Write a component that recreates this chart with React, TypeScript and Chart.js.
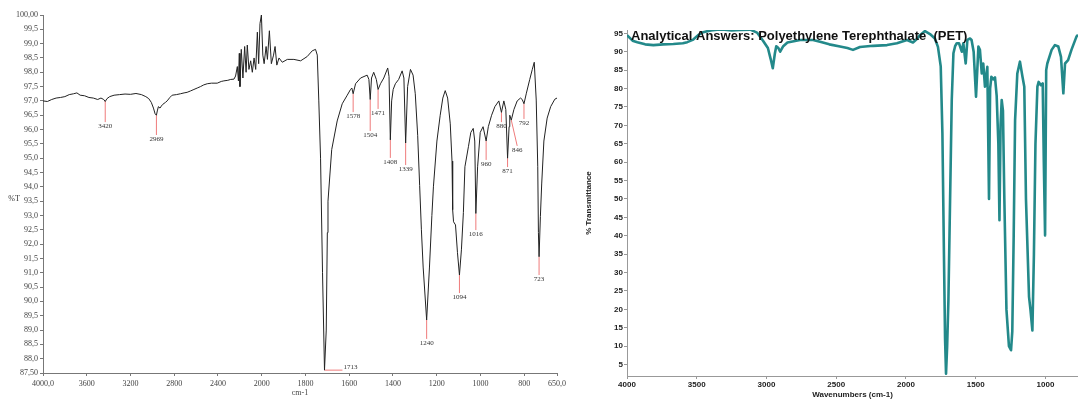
import React, { useEffect, useRef } from 'react';
import { Chart, registerables, LinearScale } from 'chart.js';

// ---------------- Left spectrum (%T, cm-1) ----------------
const leftWavenumbers = [
  4000, 3960, 3920, 3880, 3840, 3800, 3760, 3720, 3690, 3660, 3620, 3580, 3540, 3500, 3470, 3445, 3431, 3415, 3390, 3350,
  3300, 3250, 3200, 3150, 3100, 3060, 3033, 3010, 2990, 2975, 2963, 2955, 2945, 2930, 2918, 2905, 2880, 2865, 2840, 2819,
  2780, 2743, 2710, 2682, 2650, 2620, 2590, 2560, 2530, 2498, 2460, 2407, 2370, 2346, 2310, 2284, 2254, 2239, 2223, 2213,
  2205, 2199, 2187, 2172, 2156, 2143, 2132, 2117, 2101, 2086, 2070, 2055, 2040, 2028, 2016, 2003, 1995, 1989, 1980, 1974,
  1965, 1956, 1946, 1939, 1931, 1921, 1906, 1883, 1853, 1822, 1792, 1769, 1754, 1746, 1739, 1731, 1722, 1713, 1705, 1700,
  1697, 1680, 1655, 1632, 1609, 1594, 1588, 1582, 1571, 1548, 1518, 1510, 1504, 1498, 1488, 1476, 1468, 1457, 1442, 1424,
  1418, 1412, 1406, 1399, 1389, 1374, 1358, 1350, 1342, 1333, 1320, 1308, 1298, 1287, 1278, 1270, 1262, 1246, 1233, 1222,
  1215, 1199, 1184, 1172, 1161, 1150, 1138, 1130, 1127, 1123, 1114, 1105, 1096, 1087, 1078, 1071, 1055, 1044, 1033, 1026,
  1021, 1013, 1001, 988, 974, 964, 949, 934, 916, 904, 893, 884, 876, 869, 866, 859, 847, 832, 817, 809,
  801, 790, 775, 763, 754, 745, 738, 735, 732, 726, 720, 710, 695, 679, 660, 650,
];
const leftTransmittance = [
  97.0, 96.98, 97.05, 97.1, 97.12, 97.15, 97.22, 97.25, 97.28, 97.2, 97.18, 97.12, 97.1, 97.05, 97.1, 97.05, 96.98, 97.08, 97.15, 97.2,
  97.22, 97.24, 97.23, 97.26, 97.22, 97.15, 97.08, 96.95, 96.75, 96.55, 96.5, 96.65, 96.8, 96.75, 96.82, 96.88, 96.95, 97.0, 97.12, 97.2,
  97.22, 97.25, 97.28, 97.3, 97.35, 97.4, 97.45, 97.5, 97.56, 97.6, 97.62, 97.62, 97.68, 97.7, 97.72, 97.75, 97.76, 97.87, 98.2, 97.7,
  98.66, 97.5, 98.8, 97.8, 98.9, 98.0, 98.95, 98.1, 98.4, 98.0, 98.5, 98.1, 99.4, 98.3, 99.7, 100.0, 98.6, 98.3, 98.9, 98.45,
  99.45, 98.3, 98.6, 98.9, 98.25, 98.5, 98.35, 98.45, 98.45, 98.4, 98.55, 98.75, 98.8, 98.6, 97.0, 95.0, 91.0, 87.6, 89.0, 92.4,
  93.5, 95.3, 96.3, 96.9, 97.2, 97.4, 97.45, 97.25, 97.6, 97.8, 97.9, 97.75, 97.05, 97.8, 98.0, 97.75, 97.4, 97.6, 97.8, 98.15,
  97.85, 95.64, 97.0, 97.4, 97.6, 97.75, 98.05, 97.8, 95.53, 97.5, 98.1, 97.9, 97.25, 95.8, 94.05, 92.5, 91.2, 89.35, 91.2, 93.0,
  94.0, 95.6, 96.5, 97.1, 97.36, 97.1, 96.2, 94.9, 93.2, 92.78, 92.67, 91.7, 90.92, 91.8, 93.1, 94.7, 95.4, 95.9, 96.04, 95.6,
  93.07, 94.7, 95.9, 96.1, 95.6, 96.1, 96.5, 96.8, 97.0, 96.6, 97.0, 96.7, 95.0, 96.1, 96.5, 96.33, 96.7, 97.0, 97.1, 97.05,
  96.9, 97.27, 97.74, 98.1, 98.35, 97.03, 94.7, 92.4, 91.56, 92.96, 94.1, 95.6, 96.4, 96.8, 97.06, 97.1,
];
const leftXTicks = [4000, 3600, 3200, 2800, 2400, 2000, 1800, 1600, 1400, 1200, 1000, 800, 650];
const leftXTickLabels = ['4000,0', '3600', '3200', '2800', '2400', '2000', '1800', '1600', '1400', '1200', '1000', '800', '650,0'];
const leftYTicks = [87.5, 88, 88.5, 89, 89.5, 90, 90.5, 91, 91.5, 92, 92.5, 93, 93.5, 94, 94.5, 95, 95.5, 96, 96.5, 97, 97.5, 98, 98.5, 99, 99.5, 100];
const leftYTickLabels = ['87,50', '88,0', '88,5', '89,0', '89,5', '90,0', '90,5', '91,0', '91,5', '92,0', '92,5', '93,0', '93,5', '94,0', '94,5', '95,0', '95,5', '96,0', '96,5', '97,0', '97,5', '98,0', '98,5', '99,0', '99,5', '100,00'];

// Peak annotations
const peakLabels = ['3420', '2969', '1713', '1578', '1504', '1471', '1408', '1339', '1240', '1094', '1016', '960', '880', '871', '846', '792', '723'];
const peakPos = [3431, 2963, 1713, 1582, 1504, 1468, 1412, 1342, 1246, 1096, 1021, 974, 904, 876, 859, 801, 732];
const peakTip = [97.0, 96.5, 87.6, 97.25, 97.05, 97.4, 95.64, 95.53, 89.35, 90.92, 93.07, 95.6, 96.6, 95.0, 96.33, 96.9, 91.56];
const labelAnchorPos = [3431, 2963, 1631, 1582, 1504, 1468, 1412, 1342, 1246, 1096, 1021, 974, 904, 876, 832, 801, 732];
const labelAnchorVal = [96.26, 95.81, 87.6, 96.61, 95.95, 96.72, 95.01, 94.76, 88.69, 90.29, 92.49, 94.94, 96.26, 94.69, 95.43, 96.37, 90.92];
const labelSide = ['below', 'below', 'right', 'below', 'below', 'below', 'below', 'below', 'below', 'below', 'below', 'below', 'below', 'below', 'below', 'below', 'below'];

// ---------------- Right spectrum (PET reference) ----------------
const rightTitleText = 'Analytical Answers: Polyethylene Terephthalate  (PET)';
const rightWavenumbers = [
  4000, 3960, 3926, 3870, 3811, 3740, 3668, 3600, 3568, 3525, 3490, 3454, 3400, 3354, 3300, 3250, 3189, 3117, 3068, 3025,
  2990, 2970, 2955, 2940, 2930, 2915, 2902, 2880, 2850, 2759, 2666, 2616, 2550, 2473, 2420, 2380, 2330, 2236, 2136, 2065,
  1993, 1950, 1920, 1900, 1864, 1828, 1793, 1771, 1751, 1739, 1728, 1720, 1713, 1705, 1696, 1684, 1672, 1660, 1648, 1636,
  1620, 1600, 1589, 1572, 1560, 1541, 1530, 1515, 1498, 1481, 1470, 1457, 1446, 1434, 1417, 1405, 1397, 1388, 1375, 1362,
  1350, 1338, 1330, 1322, 1314, 1305, 1295, 1280, 1262, 1247, 1238, 1228, 1218, 1202, 1183, 1165, 1152, 1140, 1118, 1108,
  1094, 1083, 1072, 1058, 1049, 1033, 1020, 1012, 1003, 995, 987, 956, 932, 908, 889, 872, 860, 838, 814, 778, 767,
];
const rightTransmittance = [
  94.5, 93.0, 92.6, 92.0, 91.8, 92.0, 92.1, 92.3, 92.6, 93.3, 94.5, 95.3, 95.8, 96.0, 96.0, 95.8, 95.9, 96.0, 95.2, 93.0,
  91.0, 88.0, 85.5, 89.5, 91.5, 91.0, 90.0, 91.5, 92.5, 93.2, 93.2, 92.7, 92.0, 91.4, 91.0, 90.5, 91.3, 91.6, 91.8, 92.3,
  93.2, 92.5, 93.5, 94.5, 95.6, 94.8, 93.6, 91.3, 86.0, 67.8, 35.0, 12.0, 2.5, 10.0, 22.5, 49.7, 76.9, 89.6, 91.5, 92.3,
  92.3, 90.0, 92.3, 86.8, 93.2, 93.6, 93.2, 90.0, 77.8, 91.4, 90.5, 84.1, 86.8, 80.5, 85.9, 50.0, 80.0, 83.2, 82.5, 83.0,
  78.0, 65.0, 44.2, 70.0, 76.9, 74.0, 50.0, 20.0, 10.0, 8.9, 14.0, 40.0, 71.4, 84.1, 87.3, 83.2, 80.5, 50.0, 23.4, 20.0,
  14.3, 35.0, 65.0, 80.5, 81.8, 80.9, 81.4, 60.0, 40.1, 85.0, 86.8, 90.5, 91.8, 91.4, 88.6, 78.7, 86.8, 87.7, 90.5, 94.1, 94.6,
];
const rightXTicks = [4000, 3500, 3000, 2500, 2000, 1500, 1000];
const rightYTicks = [5, 10, 15, 20, 25, 30, 35, 40, 45, 50, 55, 60, 65, 70, 75, 80, 85, 90, 95];

// ---------------- Custom split x scale (2x expansion below 2000 cm-1) ----------------
const SPLIT_TOTAL = 2350;
function leftFrac(w: number) {
  const u = w >= 2000 ? (4000 - w) / 2 : 1000 + (2000 - w);
  return u / SPLIT_TOTAL;
}
function leftInv(d: number) {
  const u = d * SPLIT_TOTAL;
  return u <= 1000 ? 4000 - u * 2 : 2000 - (u - 1000);
}

class IRSplitScale extends LinearScale {
  static id = 'irSplit';
  static defaults = {};
  getPixelForValue(value: any) {
    if (value === null || value === undefined || isNaN(value)) return NaN;
    return (this as any).getPixelForDecimal(leftFrac(value));
  }
  getValueForPixel(pixel: number) {
    return leftInv((this as any).getDecimalForPixel(pixel));
  }
}

Chart.register(...registerables, IRSplitScale as any);

const serif = '"Liberation Serif", "Times New Roman", serif';
const sans = '"Liberation Sans", Arial, sans-serif';

const leftAnnotations = {
  id: 'leftAnnotations',
  beforeDatasetsDraw(chart: any) {
    const { ctx } = chart;
    const x = chart.scales.x;
    const y = chart.scales.y;
    ctx.save();
    ctx.strokeStyle = '#ef7b7b';
    ctx.lineWidth = 1;
    ctx.font = `7px ${serif}`;
    ctx.fillStyle = '#333';
    peakLabels.forEach((label, i) => {
      const x0 = x.getPixelForValue(peakPos[i]);
      const y0 = y.getPixelForValue(peakTip[i]);
      const x1 = x.getPixelForValue(labelAnchorPos[i]);
      const y1 = y.getPixelForValue(labelAnchorVal[i]);
      ctx.beginPath();
      ctx.moveTo(x0, y0);
      ctx.lineTo(x1, y1);
      ctx.stroke();
      if (labelSide[i] === 'right') {
        ctx.textAlign = 'left';
        ctx.textBaseline = 'bottom';
        ctx.fillText(label, x1 + 1, y1 + 1);
      } else {
        ctx.textAlign = 'center';
        ctx.textBaseline = 'top';
        ctx.fillText(label, x1, y1 + 1);
      }
    });
    ctx.font = `8px ${serif}`;
    ctx.textAlign = 'center';
    ctx.textBaseline = 'middle';
    ctx.fillText('%T', 14, (chart.chartArea.top + chart.chartArea.bottom) / 2 + 5);
    ctx.restore();
  },
};

const rightTitle = {
  id: 'rightTitle',
  afterDatasetsDraw(chart: any) {
    const { ctx, chartArea } = chart;
    ctx.save();
    ctx.font = `bold 13px ${sans}`;
    ctx.fillStyle = '#111';
    ctx.textAlign = 'left';
    ctx.textBaseline = 'alphabetic';
    ctx.fillText(rightTitleText, chartArea.left + 4, chartArea.top + 10);
    ctx.restore();
  },
};

export default function App() {
  const leftRef = useRef<HTMLCanvasElement>(null);
  const rightRef = useRef<HTMLCanvasElement>(null);

  useEffect(() => {
    const leftChart = new Chart(leftRef.current as HTMLCanvasElement, {
      type: 'line',
      data: {
        datasets: [
          {
            data: leftWavenumbers.map((w, i) => ({ x: w, y: leftTransmittance[i] })),
            borderColor: '#222',
            borderWidth: 1,
            pointRadius: 0,
            tension: 0,
          },
        ],
      },
      options: {
        responsive: false,
        maintainAspectRatio: false,
        animation: false,
        devicePixelRatio: 1,
        layout: { padding: { top: 15, right: 18, left: 0, bottom: 0 } },
        plugins: { legend: { display: false }, tooltip: { enabled: false } },
        scales: {
          x: {
            type: 'irSplit' as any,
            min: 650,
            max: 4000,
            afterBuildTicks: (s: any) => {
              s.ticks = leftXTicks.map((value) => ({ value }));
            },
            afterFit: (s: any) => {
              s.height = 27;
            },
            ticks: {
              autoSkip: false,
              maxRotation: 0,
              padding: 3,
              color: '#444',
              font: { family: serif, size: 8 },
              callback: (_v: any, i: number) => leftXTickLabels[i],
            },
            grid: { drawOnChartArea: false, drawTicks: true, tickLength: 3, color: '#777' },
            border: { display: true, color: '#777' },
            title: { display: true, text: 'cm-1', color: '#444', font: { family: serif, size: 8 }, padding: { top: 0, bottom: 2 } },
          },
          y: {
            type: 'linear',
            min: 87.5,
            max: 100,
            afterBuildTicks: (s: any) => {
              s.ticks = leftYTicks.map((value) => ({ value }));
            },
            afterFit: (s: any) => {
              s.width = 43;
            },
            ticks: {
              autoSkip: false,
              padding: 2,
              color: '#444',
              font: { family: serif, size: 8 },
              callback: (_v: any, i: number) => leftYTickLabels[i],
            },
            grid: { drawOnChartArea: false, drawTicks: true, tickLength: 3, color: '#777' },
            border: { display: true, color: '#777' },
          },
        },
      },
      plugins: [leftAnnotations],
    } as any);

    const rightChart = new Chart(rightRef.current as HTMLCanvasElement, {
      type: 'line',
      data: {
        datasets: [
          {
            data: rightWavenumbers.map((w, i) => ({ x: w, y: rightTransmittance[i] })),
            borderColor: '#23898a',
            borderWidth: 2.6,
            pointRadius: 0,
            tension: 0,
            borderJoinStyle: 'round',
          },
        ],
      },
      options: {
        responsive: false,
        maintainAspectRatio: false,
        animation: false,
        devicePixelRatio: 1,
        layout: { padding: { top: 30, right: 0, left: 0, bottom: 0 } },
        plugins: { legend: { display: false }, tooltip: { enabled: false } },
        scales: {
          x: {
            type: 'linear',
            reverse: true,
            min: 767,
            max: 4000,
            afterBuildTicks: (s: any) => {
              s.ticks = rightXTicks.map((value) => ({ value }));
            },
            afterFit: (s: any) => {
              s.height = 24;
            },
            ticks: {
              autoSkip: false,
              maxRotation: 0,
              padding: 1,
              color: '#222',
              font: { family: sans, size: 8, weight: 'bold' },
              callback: (v: any) => String(v),
            },
            grid: { drawOnChartArea: false, drawTicks: true, tickLength: 3, color: '#999' },
            border: { display: true, color: '#999', dash: [2, 2] },
            title: {
              display: true,
              text: 'Wavenumbers (cm-1)',
              color: '#222',
              font: { family: sans, size: 8, weight: 'bold' },
              padding: { top: 0, bottom: 0 },
            },
          },
          y: {
            type: 'linear',
            min: 1.9,
            max: 95.9,
            afterBuildTicks: (s: any) => {
              s.ticks = rightYTicks.map((value) => ({ value }));
            },
            afterFit: (s: any) => {
              s.width = 52;
            },
            ticks: {
              autoSkip: false,
              padding: 1,
              color: '#222',
              font: { family: sans, size: 8, weight: 'bold' },
              callback: (v: any) => String(v),
            },
            grid: { drawOnChartArea: false, drawTicks: true, tickLength: 3, color: '#999' },
            border: { display: true, color: '#999', dash: [2, 2] },
            title: {
              display: true,
              text: '% Transmittance',
              color: '#222',
              font: { family: sans, size: 8, weight: 'bold' },
              padding: { top: 9, bottom: 0 },
            },
          },
        },
      },
      plugins: [rightTitle],
    } as any);

    return () => {
      leftChart.destroy();
      rightChart.destroy();
    };
  }, []);

  return (
    <div style={{ position: 'fixed', left: 0, top: 0, width: 1078, height: 400, background: '#fff', overflow: 'hidden' }}>
      <canvas ref={leftRef} width={575} height={400} style={{ position: 'absolute', left: 0, top: 0, width: 575, height: 400 }} />
      <canvas ref={rightRef} width={503} height={400} style={{ position: 'absolute', left: 575, top: 0, width: 503, height: 400 }} />
    </div>
  );
}
